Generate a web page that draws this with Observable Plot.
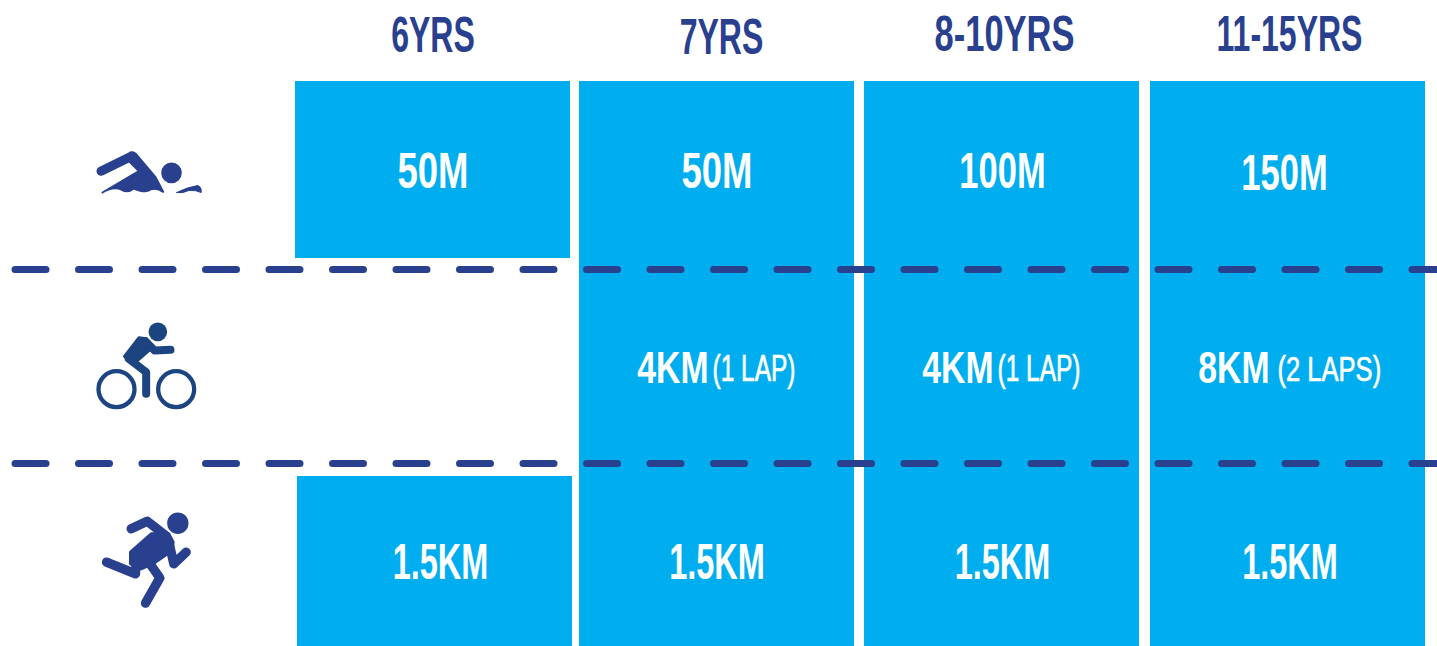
<!DOCTYPE html>
<html><head><meta charset="utf-8">
<script src="https://cdn.jsdelivr.net/npm/d3@7"></script>
<script src="https://cdn.jsdelivr.net/npm/@observablehq/plot@0.6"></script>
<style>html,body{margin:0;padding:0;background:#fff;overflow:hidden}svg{display:block}</style>
</head><body><div id="chart"></div>
<script>
const ages = ["6YRS","7YRS","8-10YRS","11-15YRS"];
const sports = ["swim","bike","run"];
const swimDistances = ["50M","50M","100M","150M"];
const bikeDistances = [null,"4KM","4KM","8KM"];
const bikeLaps = [null,"(1 LAP)","(1 LAP)","(2 LAPS)"];
const runDistances = ["1.5KM","1.5KM","1.5KM","1.5KM"];

// Layout only
const W = 1437, H = 646;
const blue = "#00aeef", navy = "#29408f", bikeNavy = "#1c4480";
const colEdges = {"6YRS":[295,570],"7YRS":[579,854],"8-10YRS":[864,1139],"11-15YRS":[1150,1425]};
const rowEdges = {swim:[81,258],bike:[258,476],run:[476,646]};
const runShift = {"6YRS":2};
const headPos = {"6YRS":[432.5,35],"7YRS":[721,37],"8-10YRS":[1004,34],"11-15YRS":[1289,34]};
const swimX = {"6YRS":432.5,"7YRS":716.5,"8-10YRS":1002,"11-15YRS":1284};
const runX = {"6YRS":440,"7YRS":716.5,"8-10YRS":1002,"11-15YRS":1289.5};
const kmEnd = {"7YRS":708,"8-10YRS":993,"11-15YRS":1269};
const lapStart = {"7YRS":712,"8-10YRS":997,"11-15YRS":1277};
const swimY = {"6YRS":171,"7YRS":171,"8-10YRS":171,"11-15YRS":173};
const fit = {"6YRS":.64,"7YRS":.64,"8-10YRS":.69,"11-15YRS":.64,"50M":.73,"100M":.69,"150M":.69,"1.5KM":.65,"4KM":.75,"8KM":.75,"(1 LAP)":.68,"(2 LAPS)":.71};
const dist = {swim:swimDistances,bike:bikeDistances,run:runDistances};

const cells = sports.flatMap(s => ages.map((a,i)=>({age:a,sport:s,label:dist[s][i],lap:s==="bike"?bikeLaps[i]:null}))).filter(d=>d.label);
const rx1 = d => colEdges[d.age][0] + (d.sport==="run"?(runShift[d.age]||0):0);
const rx2 = d => colEdges[d.age][1] + (d.sport==="run"?(runShift[d.age]||0):0);

const font = "'Liberation Sans',sans-serif";
const condense = (index,scales,values,dims,ctx,next) => {
  const g = next(index,scales,values,dims,ctx);
  g.querySelectorAll("text").forEach(t=>{
    t.setAttribute("transform",(t.getAttribute("transform")||"")+` scale(${fit[t.textContent]},1)`);
  });
  return g;
};

// Icon shapes in 3x local units around the icon's anchor
const shape = (pts,open=false) => ({draw(c){
  pts.forEach((p,i)=>{
    if(i===0) c.moveTo(p[0]/3,p[1]/3);
    else if(p.length===4) c.quadraticCurveTo(p[0]/3,p[1]/3,p[2]/3,p[3]/3);
    else c.lineTo(p[0]/3,p[1]/3);
  });
  if(!open) c.closePath();
}});
const limb = (pts,w) => ({stroke:shape(pts,true),w:w/3});
const circle = (x,y,r) => ({draw(c){c.moveTo((x+r)/3,y/3);c.arc(x/3,y/3,r/3,0,2*Math.PI);c.closePath();}});
const icons = [
  {x:80,y:130,color:navy,layers:[
    {fill:shape([[150,66],[166,70],[225,140],[248,184],[232,172,212,176],[198,190,160,174],[140,190,120,176],[95,168,66,186],[175,122],[148,95]]),w:2},
    limb([[62,122],[155,76]],28),
    {fill:circle(273,127,31)},
    {fill:shape([[289,186],[320,170,352,165],[364,170,362,186],[345,178,325,180],[305,190,289,186]]),w:1}
  ]},
  {x:80,y:310,color:bikeNavy,layers:[
    {fill:circle(232,64,28)},
    {stroke:circle(108,236,54),w:4.3},
    {stroke:circle(287,236,54),w:4.3},
    {fill:shape([[132,138],[175,82],[198,85],[205,120],[165,155],[145,150]]),w:3},
    limb([[195,92],[222,120],[270,118]],24),
    limb([[145,145],[197,185],[197,250]],24)
  ]},
  {x:90,y:500,color:navy,layers:[
    {fill:circle(262,68,32)},
    {fill:shape([[182,100],[235,100],[248,125],[245,150],[190,188],[152,205],[120,190],[120,155]]),w:3},
    limb([[122,85],[170,62],[225,105]],28),
    limb([[235,125],[250,190],[287,155]],28),
    limb([[48,185],[135,220],[137,180]],28),
    limb([[175,185],[208,232],[165,308]],28)
  ]}
];
const iconMarks = icons.flatMap(ic => ic.layers.map(l => Plot.dot([ic],{
  x:"x",y:"y",r:5,
  symbol:l.fill||l.stroke,
  fill:l.fill?ic.color:"none",
  stroke:(l.fill&&!l.w)?"none":ic.color,
  strokeWidth:l.w||0,
  strokeLinecap:"round",strokeLinejoin:"round"
})));

const dashRows = [{y:269},{y:463}];
const dashMarks = dashRows.map(r => Plot.line([{x:14.5,y:r.y},{x:1437,y:r.y}],{
  x:"x",y:"y",stroke:navy,strokeWidth:7,strokeDasharray:"31,32.5",strokeLinecap:"round"
}));

const plot = Plot.plot({
  width:W,height:H,margin:0,
  x:{domain:[0,W],range:[0,W],axis:null},
  y:{domain:[0,H],range:[0,H],axis:null},
  marks:[
    Plot.rect(cells,{x1:rx1,x2:rx2,y1:d=>rowEdges[d.sport][0],y2:d=>rowEdges[d.sport][1],fill:blue}),
    Plot.text(ages,{x:d=>headPos[d][0],y:d=>headPos[d][1],text:d=>d,fill:navy,fontFamily:font,fontWeight:700,fontSize:50,render:condense}),
    Plot.text(cells.filter(d=>d.sport==="swim"),{x:d=>swimX[d.age],y:d=>swimY[d.age],text:"label",fill:"#fff",fontFamily:font,fontWeight:700,fontSize:50,render:condense}),
    Plot.text(cells.filter(d=>d.sport==="run"),{x:d=>runX[d.age],y:()=>562,text:"label",fill:"#fff",fontFamily:font,fontWeight:700,fontSize:50,render:condense}),
    Plot.text(cells.filter(d=>d.lap),{x:d=>kmEnd[d.age],y:()=>368,text:"label",textAnchor:"end",fill:"#fff",fontFamily:font,fontWeight:700,fontSize:45,render:condense}),
    Plot.text(cells.filter(d=>d.lap),{x:d=>lapStart[d.age],y:()=>369,text:"lap",textAnchor:"start",fill:"#fff",stroke:"#fff",strokeWidth:0.7,fontFamily:font,fontWeight:400,fontSize:36,render:condense}),
    ...dashMarks,
    ...iconMarks
  ]
});
document.getElementById("chart").append(plot);
</script></body></html>
